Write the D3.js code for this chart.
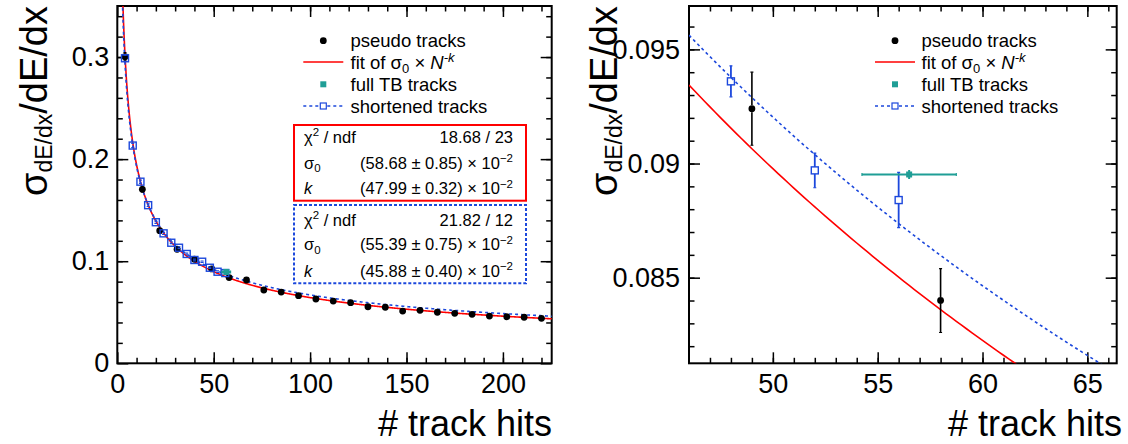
<!DOCTYPE html>
<meta charset="utf-8">
<style>
body { margin: 0; background: #fff; }
svg text { font-family: "Liberation Sans", Arial, Helvetica, sans-serif; fill: #000; }
.frame { fill: none; stroke: #000; stroke-width: 2px; }
.tick line { stroke: #000; stroke-width: 1.5px; }
</style>
<body>
<script src="https://d3js.org/d3.v7.min.js"></script>
<script>

var width = 1128, height = 444;

// pseudo tracks (black dots)
var pseudoHits  = [4, 13, 22, 31, 40, 49, 58, 67, 76, 85, 94, 103, 112, 121, 130, 139, 148, 157, 166, 175, 184, 193, 202, 211, 220];
var pseudoSigma = [0.3003, 0.1704, 0.1299, 0.1117, 0.1019, 0.0924, 0.0840, 0.0816, 0.0718, 0.0698, 0.0662, 0.0630, 0.0610,
                   0.0594, 0.0554, 0.0549, 0.0512, 0.0519, 0.0500, 0.0490, 0.0480, 0.0463, 0.0456, 0.0451, 0.0441];
var pseudoErr   = [0.0040, 0.0025, 0.0021, 0.0019, 0.0018, 0.0016, 0.0014, 0.0014, 0.0013, 0.0012, 0.0012, 0.0011, 0.0011,
                   0.0010, 0.0010, 0.0010, 0.0009, 0.0009, 0.0009, 0.0009, 0.0008, 0.0008, 0.0008, 0.0008, 0.0008];

// shortened tracks (open blue squares)
var shortHits  = [4, 8, 12, 16, 20, 24, 28, 32, 36, 40, 44, 48, 52, 56];
var shortSigma = [0.2988, 0.2133, 0.1779, 0.1549, 0.1382, 0.1273, 0.1181, 0.1132, 0.1071, 0.1012, 0.0995, 0.0936, 0.0897, 0.0884];
var shortErr   = [0.0030, 0.0020, 0.0016, 0.0013, 0.0011, 0.0010, 0.0009, 0.0009, 0.0008, 0.0008, 0.0007, 0.00068, 0.00076, 0.00121];

// full TB tracks (teal)
var fullHits = [56.5], fullHitsErr = [2.25];
var fullSigma = [0.08952], fullSigmaErr = [0.0002];

// fit parameters
var fitPseudo = [0.5868, 0.4799];   // sigma0, k
var fitShort  = [0.5539, 0.4588];

// ticks
var xMajorL = [0, 50, 100, 150, 200];
var yMajorL = [0, 0.1, 0.2, 0.3];
var yLabelsL = ["0", "0.1", "0.2", "0.3"];
var xMajorR = [50, 55, 60, 65];
var yMajorR = [0.085, 0.09, 0.095];
var yLabelsR = ["0.085", "0.09", "0.095"];

var legendLabels = ["pseudo tracks", "fit", "full TB tracks", "shortened tracks"];

var red = "#ff0000", blue = "#1c48dc", teal = "#1f9e96";

var svg = d3.select("body").append("svg")
    .attr("width", width)
    .attr("height", height);

function rich(text, parts, size) {
  var shift = 0;
  parts.forEach(function(p) {
    var target = p.dy || 0;
    var t = text.append("tspan").text(p.t).attr("dy", target - shift);
    shift = target;
    if (p.s) t.style("font-size", p.s + "px");
    if (p.i) t.style("font-style", "italic");
  });
}

function panel(opt) {
  var x = d3.scaleLinear().domain(opt.xd).range(opt.xr),
      y = d3.scaleLinear().domain(opt.yd).range(opt.yr);
  var g = svg.append("g");
  var id = "clip" + opt.name;

  g.append("clipPath").attr("id", id).append("rect")
      .attr("x", opt.xr[0]).attr("y", opt.yr[1])
      .attr("width", opt.xr[1] - opt.xr[0]).attr("height", opt.yr[0] - opt.yr[1]);

  // axes, ticks pointing inward
  function ax(gen, tx, ty, vals, size, fmt, pad) {
    var a = g.append("g").attr("transform", "translate(" + tx + "," + ty + ")")
      .call(gen.tickValues(vals).tickSize(size).tickSizeOuter(0).tickFormat(fmt).tickPadding(pad));
    a.select(".domain").remove();
    a.selectAll("text").style("font-size", "27px");
    return a;
  }
  var none = function() { return ""; };
  var xl = function(d, i) { return opt.xLabels[i]; };
  var yl = function(d, i) { return opt.yLabels[i]; };

  ax(d3.axisBottom(x), 0, opt.yr[0], opt.xMajor, -11, xl, 11);
  ax(d3.axisBottom(x), 0, opt.yr[0], opt.xMinor, -5.5, none, 0);
  ax(d3.axisTop(x), 0, opt.yr[1], opt.xMajor, -11, none, 0);
  ax(d3.axisTop(x), 0, opt.yr[1], opt.xMinor, -5.5, none, 0);
  ax(d3.axisLeft(y), opt.xr[0], 0, opt.yMajor, -11, yl, opt.yPad);
  ax(d3.axisLeft(y), opt.xr[0], 0, opt.yMinor, -5.5, none, 0);
  ax(d3.axisRight(y), opt.xr[1], 0, opt.yMajor, -11, none, 0);
  ax(d3.axisRight(y), opt.xr[1], 0, opt.yMinor, -5.5, none, 0);

  g.append("rect").attr("class", "frame")
      .attr("x", opt.xr[0]).attr("y", opt.yr[1])
      .attr("width", opt.xr[1] - opt.xr[0]).attr("height", opt.yr[0] - opt.yr[1]);

  var plot = g.append("g").attr("clip-path", "url(#" + id + ")");

  // fit curves
  var ns = d3.range(opt.xd[0] > 2 ? opt.xd[0] : 1.5, opt.xd[1] + 0.5, 0.25);
  var line = d3.line().x(function(n) { return x(n); });
  plot.append("path")
      .attr("d", line.y(function(n) { return y(fitPseudo[0] * Math.pow(n, -fitPseudo[1])); })(ns))
      .attr("fill", "none").attr("stroke", red).attr("stroke-width", 1.6);
  plot.append("path")
      .attr("d", line.y(function(n) { return y(fitShort[0] * Math.pow(n, -fitShort[1])); })(ns))
      .attr("fill", "none").attr("stroke", blue).attr("stroke-width", 1.6).attr("stroke-dasharray", "3,3");

  var half = 3.5;
  // error bars, skipping the marker box
  function vbar(cx, v, e, col, w) {
    var top = y(v + e), bot = y(v - e), cy = y(v);
    if (cy - half > top) plot.append("line").attr("x1", cx).attr("x2", cx).attr("y1", top).attr("y2", cy - half)
        .attr("stroke", col).attr("stroke-width", w);
    if (bot > cy + half) plot.append("line").attr("x1", cx).attr("x2", cx).attr("y1", cy + half).attr("y2", bot)
        .attr("stroke", col).attr("stroke-width", w);
    [top, bot].forEach(function(yy) {
      plot.append("line").attr("x1", cx - 1.5).attr("x2", cx + 1.5).attr("y1", yy).attr("y2", yy)
          .attr("stroke", col).attr("stroke-width", 1.2);
    });
  }

  pseudoHits.forEach(function(n, i) { vbar(x(n), pseudoSigma[i], pseudoErr[i], "#000", 1.6); });
  plot.selectAll(".pseudo").data(pseudoHits).enter().append("circle")
      .attr("cx", function(d) { return x(d); })
      .attr("cy", function(d, i) { return y(pseudoSigma[i]); })
      .attr("r", 3.4).attr("fill", "#000");

  shortHits.forEach(function(n, i) { vbar(x(n), shortSigma[i], shortErr[i], blue, 1.8); });
  plot.selectAll(".short").data(shortHits).enter().append("rect")
      .attr("x", function(d) { return x(d) - half; })
      .attr("y", function(d, i) { return y(shortSigma[i]) - half; })
      .attr("width", 2 * half).attr("height", 2 * half)
      .attr("fill", "none").attr("stroke", blue).attr("stroke-width", 1.4);

  fullHits.forEach(function(n, i) {
    var cy = y(fullSigma[i]);
    plot.append("line").attr("x1", x(n - fullHitsErr[i])).attr("x2", x(n + fullHitsErr[i]))
        .attr("y1", cy).attr("y2", cy).attr("stroke", teal).attr("stroke-width", 2);
    [x(n - fullHitsErr[i]), x(n + fullHitsErr[i])].forEach(function(xx) {
      plot.append("line").attr("x1", xx).attr("x2", xx).attr("y1", cy - 1.5).attr("y2", cy + 1.5)
          .attr("stroke", teal).attr("stroke-width", 1.2);
    });
    plot.append("line").attr("x1", x(n)).attr("x2", x(n))
        .attr("y1", y(fullSigma[i] + fullSigmaErr[i])).attr("y2", y(fullSigma[i] - fullSigmaErr[i]))
        .attr("stroke", teal).attr("stroke-width", 2);
  });
  plot.selectAll(".full").data(fullHits).enter().append("rect")
      .attr("x", function(d) { return x(d) - 3; })
      .attr("y", function(d, i) { return y(fullSigma[i]) - 3; })
      .attr("width", 6).attr("height", 6).attr("fill", teal);

  // legend
  var L = opt.legend, rows = [40.7, 62, 84.3, 106];
  var lg = g.append("g");
  lg.append("circle").attr("cx", L.mx).attr("cy", rows[0]).attr("r", 3.4).attr("fill", "#000");
  lg.append("line").attr("x1", L.mx - 20).attr("x2", L.mx + 20).attr("y1", rows[1]).attr("y2", rows[1])
      .attr("stroke", red).attr("stroke-width", 1.6);
  lg.append("rect").attr("x", L.mx - 3).attr("y", rows[2] - 3).attr("width", 6).attr("height", 6).attr("fill", teal);
  lg.append("line").attr("x1", L.mx - 20).attr("x2", L.mx + 20).attr("y1", rows[3]).attr("y2", rows[3])
      .attr("stroke", blue).attr("stroke-width", 1.6).attr("stroke-dasharray", "3,3");
  lg.append("rect").attr("x", L.mx - 3).attr("y", rows[3] - 3).attr("width", 6).attr("height", 6)
      .attr("fill", "#fff").attr("stroke", blue).attr("stroke-width", 1.2);

  rows.forEach(function(r, i) {
    var t = lg.append("text").attr("x", L.tx).attr("y", r + 6.5).style("font-size", "18.5px");
    if (legendLabels[i] === "fit") {
      rich(t, [{t: "fit of σ"}, {t: "0", s: 13, dy: 4}, {t: " × "}, {t: "N", i: true},
               {t: "-k", s: 13, dy: -7, i: true}], 18.5);
    } else {
      t.text(legendLabels[i]);
    }
  });

  // axis titles
  g.append("text").attr("x", opt.xTitleX).attr("y", 436)
      .attr("text-anchor", "end").style("font-size", "36px").text("# track hits");
  var yt = g.append("text").attr("text-anchor", "end").style("font-size", "38px")
      .attr("transform", "translate(" + opt.yTitleX + ",6) rotate(-90)");
  rich(yt, [{t: "σ"}, {t: "dE/dx", s: 23, dy: 5}, {t: "/dE/dx"}], 38);

  return {x: x, y: y, g: g};
}

var left = panel({
  name: "L",
  xd: [0, 225.3], xr: [117.3, 551.7],
  yd: [0, 0.35], yr: [363.3, 6],
  xMajor: xMajorL, xLabels: xMajorL.map(String), xMinor: d3.range(10, 225, 10),
  yMajor: yMajorL, yLabels: yLabelsL, yMinor: d3.range(0.02, 0.35, 0.02),
  yPad: 8,
  legend: {mx: 323.3, tx: 350.5},
  xTitleX: 552, yTitleX: 47
});

var right = panel({
  name: "R",
  xd: [46, 66.4], xr: [689, 1116.7],
  yd: [0.08125, 0.0969], yr: [363.3, 6],
  xMajor: xMajorR, xLabels: xMajorR.map(String), xMinor: d3.range(47, 67, 1),
  yMajor: yMajorR, yLabels: yLabelsR, yMinor: d3.range(0.082, 0.0968, 0.001),
  yPad: 9,
  legend: {mx: 895, tx: 921.5},
  xTitleX: 1122, yTitleX: 617
});

// fit statistics boxes (left panel)
var stats = [
  {y: 125, h: 75.7, stroke: red, dash: null, rows: [136.7, 162.7, 188.3],
   chi: "18.68 / 23", s0: "(58.68 ± 0.85) × 10", k: "(47.99 ± 0.32) × 10"},
  {y: 205, h: 78.3, stroke: blue, dash: "3,2", rows: [220, 244.5, 270.7],
   chi: "21.82 / 12", s0: "(55.39 ± 0.75) × 10", k: "(45.88 ± 0.40) × 10"}
];

stats.forEach(function(s) {
  var b = svg.append("g");
  b.append("rect").attr("x", 294).attr("y", s.y).attr("width", 232).attr("height", s.h)
      .attr("fill", "#fff").attr("stroke", s.stroke).attr("stroke-width", 2)
      .attr("stroke-dasharray", s.dash);
  function lbl(r, parts) {
    rich(b.append("text").attr("x", 304).attr("y", r + 5.8).style("font-size", "16.5px"), parts, 16.5);
  }
  function val(r, parts) {
    rich(b.append("text").attr("x", 513).attr("y", r + 5.8).attr("text-anchor", "end").style("font-size", "16.5px"), parts, 16.5);
  }
  lbl(s.rows[0], [{t: "χ"}, {t: "2", s: 11.5, dy: -6.5}, {t: " / ndf"}]);
  lbl(s.rows[1], [{t: "σ"}, {t: "0", s: 11.5, dy: 3.5}]);
  lbl(s.rows[2], [{t: "k", i: true}]);
  val(s.rows[0], [{t: s.chi}]);
  val(s.rows[1], [{t: s.s0}, {t: "−2", s: 11.5, dy: -6.5}]);
  val(s.rows[2], [{t: s.k}, {t: "−2", s: 11.5, dy: -6.5}]);
});

</script>
